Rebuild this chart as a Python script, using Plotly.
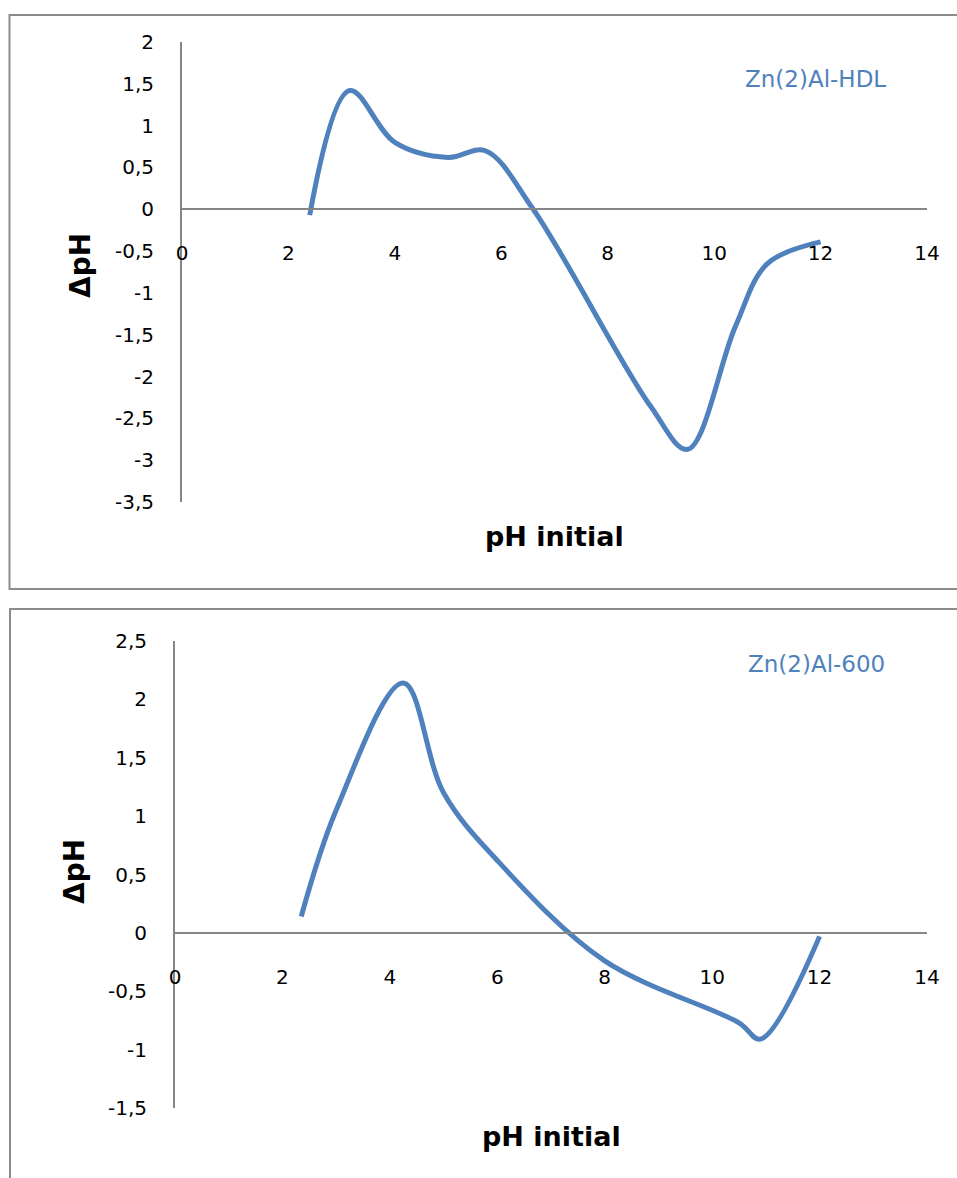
import plotly.graph_objects as go

# ---- data ----
top_name = "Zn(2)Al-HDL"
top_x = [2.4, 3.15, 4.0, 5.0, 5.7, 6.6, 8.8, 9.5, 10.4, 11.0, 12.0]
top_y = [-0.07, 1.42, 0.8, 0.62, 0.7, 0.0, -2.35, -2.87, -1.4, -0.65, -0.39]

bot_name = "Zn(2)Al-600"
bot_x = [2.35, 3.0, 4.25, 5.0, 6.0, 8.0, 10.5, 10.9, 12.0]
bot_y = [0.14, 1.05, 2.14, 1.2, 0.62, -0.24, -0.77, -0.91, -0.03]

x_ticks = [0, 2, 4, 6, 8, 10, 12, 14]
x_ticktext = ["0", "2", "4", "6", "8", "10", "12", "14"]
top_yticks = [2, 1.5, 1, 0.5, 0, -0.5, -1, -1.5, -2, -2.5, -3, -3.5]
top_yticktext = ["2", "1,5", "1", "0,5", "0", "-0,5", "-1", "-1,5", "-2", "-2,5", "-3", "-3,5"]
bot_yticks = [2.5, 2, 1.5, 1, 0.5, 0, -0.5, -1, -1.5]
bot_yticktext = ["2,5", "2", "1,5", "1", "0,5", "0", "-0,5", "-1", "-1,5"]

x_title = "pH initial"
y_title = "ΔpH"

# ---- style ----
W, H = 957, 1178
LINE = "#4F81BD"
AX = "#868686"
FONT = "DejaVu Sans"

def py(p):  # pixel row -> paper fraction
    return 1 - p / H

def px(p):
    return p / W

fig = go.Figure()
fig.add_trace(go.Scatter(x=top_x, y=top_y, mode="lines", name=top_name,
                         line=dict(color=LINE, width=5, shape="spline", smoothing=1.0),
                         xaxis="x", yaxis="y", showlegend=False))
fig.add_trace(go.Scatter(x=bot_x, y=bot_y, mode="lines", name=bot_name,
                         line=dict(color=LINE, width=5, shape="spline", smoothing=1.0),
                         xaxis="x2", yaxis="y2", showlegend=False))

tickfont = dict(family=FONT, size=20, color="#000000")

common_x = dict(range=[0, 14], tickvals=x_ticks, ticktext=x_ticktext, showgrid=False,
                zeroline=False, showline=True, linecolor=AX, linewidth=2, ticks="",
                tickfont=tickfont, anchor="free", ticklabelstandoff=26, fixedrange=True,
                automargin=False)
common_y = dict(showgrid=False, zeroline=False, showline=True, linecolor=AX, linewidth=2,
                ticks="", tickfont=tickfont, ticklabelstandoff=22, fixedrange=True,
                automargin=False)

def ann(text, x, y, size, color="#000000", angle=0):
    return dict(text=text, xref="paper", yref="paper", x=px(x), y=py(y),
                xanchor="center", yanchor="middle", showarrow=False, textangle=angle,
                font=dict(family=FONT, size=size, color=color))

fig.update_layout(
    width=W, height=H, autosize=False,
    margin=dict(l=0, r=0, t=0, b=0, pad=0, autoexpand=False),
    paper_bgcolor="white", plot_bgcolor="white",
    xaxis=dict(domain=[px(182), px(927)], position=py(209), **common_x),
    yaxis=dict(domain=[py(502), py(42)], range=[-3.5, 2], tickvals=top_yticks,
               ticktext=top_yticktext, anchor="x", **common_y),
    xaxis2=dict(domain=[px(175), px(927)], position=py(933), **common_x),
    yaxis2=dict(domain=[py(1108), py(641)], range=[-1.5, 2.5], tickvals=bot_yticks,
                ticktext=bot_yticktext, anchor="x2", **common_y),
    shapes=[
        dict(type="rect", xref="paper", yref="paper", x0=px(9.5), x1=1.02,
             y0=py(589), y1=py(15), line=dict(color="#8C8C8C", width=2)),
        dict(type="rect", xref="paper", yref="paper", x0=px(10), x1=1.02,
             y0=-0.02, y1=py(609), line=dict(color="#8C8C8C", width=2)),
    ],
    annotations=[
        ann(top_name, 815, 79, 23, LINE),
        ann(bot_name, 816, 664, 23, LINE),
        ann(f"<b>{x_title}</b>", 554, 536, 27),
        ann(f"<b>{x_title}</b>", 551, 1136, 27),
        ann(f"<b>{y_title}</b>", 80, 266, 28, angle=-90),
        ann(f"<b>{y_title}</b>", 74, 872, 28, angle=-90),
    ],
)

fig.write_html("out.html", config={"responsive": False, "displayModeBar": False},
               post_script="document.body.style.margin='0';document.body.style.overflow='hidden';")
